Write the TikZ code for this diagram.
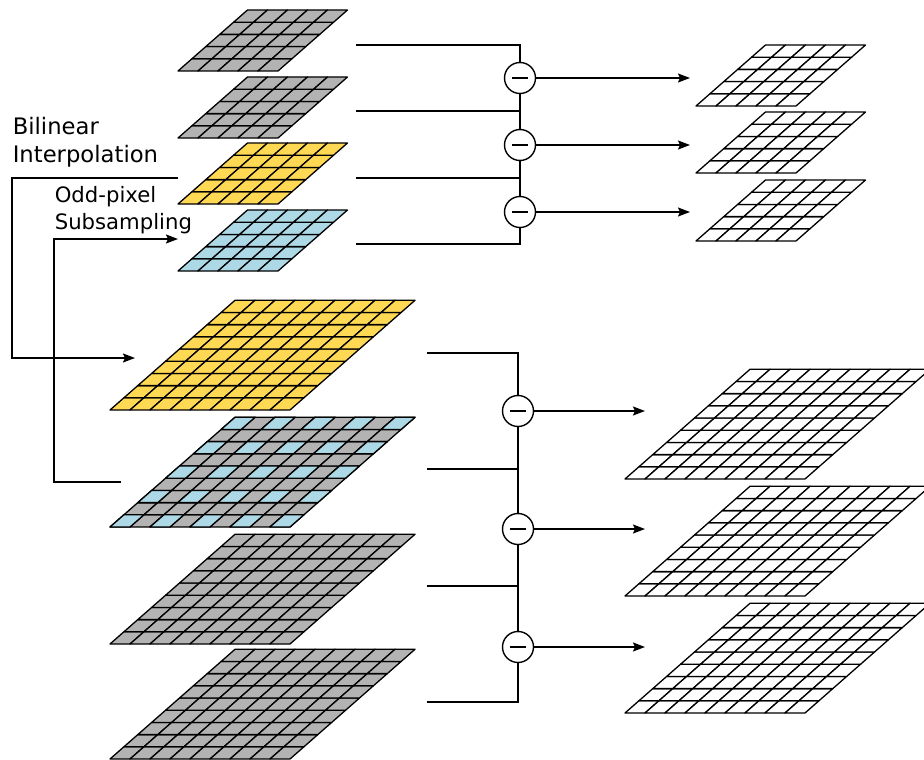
\documentclass[tikz,border=0pt]{standalone}
\usepackage{fontspec}
\setmainfont{DejaVu Sans}
\usepackage{tikz}
\usetikzlibrary{arrows.meta}

\definecolor{LayerGray}{RGB}{179,179,179}
\definecolor{LayerGold}{RGB}{255,217,84}
\definecolor{LayerBlue}{RGB}{173,216,230}

% one cell of a slanted grid: x, y of grid corner, row, column, fill
\newcommand{\gridcell}[5]{%
  \draw[cell, fill=#5] ({#1+#4*20+#3*13.9},{#2-#3*12.2}) -- ++(20,0) -- ++(13.9,-12.2) -- ++(-20,0) -- cycle;}
% full grid: x, y of lower left corner, size, fill
\newcommand{\layer}[4]{%
  \foreach \r in {0,...,\numexpr#3-1\relax} {
    \foreach \c in {0,...,\numexpr#3-1\relax} {\gridcell{#1}{#2}{\r}{\c}{#4}}}}

\begin{document}
\begin{tikzpicture}[x=1pt, y=-1pt, line width=1.6pt,
    cell/.style={draw=black, line width=1.3pt, line join=round},
    diff/.style={draw, circle, fill=white, minimum size=31pt, inner sep=0pt, line width=1.4pt,
      path picture={\draw[line width=1.3pt] ([xshift=-8pt]path picture bounding box.center) -- ([xshift=8pt]path picture bounding box.center);}},
    flow/.style={-{Stealth[length=12pt, width=9pt, inset=2pt]}},
    every node/.append style={font=\fontsize{22.7}{28}\selectfont}]
  \tikzstyle{label} = [anchor=north west, align=left, inner sep=0pt]
  \useasboundingbox (0,0) rectangle (924,760);

  \layer{178}{71}{5}{LayerGray}
  \layer{178}{138}{5}{LayerGray}
  \layer{178}{204}{5}{LayerGold}
  \layer{178}{271}{5}{LayerBlue}

  \layer{696}{106}{5}{white}
  \layer{696}{173}{5}{white}
  \layer{696}{241}{5}{white}

  \layer{110}{410}{9}{LayerGold}
  \layer{110}{527}{9}{LayerGray}
  \foreach \r in {0,2,...,8} {
    \foreach \c in {0,2,...,8} {\gridcell{110}{527}{\r}{\c}{LayerBlue}}}
  \layer{110}{644}{9}{LayerGray}
  \layer{110}{759}{9}{LayerGray}

  \layer{625}{479}{9}{white}
  \layer{625}{596}{9}{white}
  \layer{625}{713}{9}{white}

  \node[label] (bilinear) at (12,116) {Bilinear\\Interpolation};
  \node[label, font=\fontsize{21.2}{27}\selectfont] (oddpixel) at (54,186) {Odd-pixel\\Subsampling};

  \coordinate (bsrc) at (178,178);
  \coordinate (bcorner) at (12,178);
  \coordinate (bdst) at (135,358);
  \draw[flow] (bsrc) -- (bcorner) |- (bdst);
  \coordinate (osrc) at (121,482);
  \coordinate (ocorner) at (54,482);
  \coordinate (odst) at (178,239);
  \draw[flow] (osrc) -- (ocorner) |- (odst);

  \coordinate (s1) at (356,45);
  \coordinate (s2) at (356,111);
  \coordinate (s3) at (356,178);
  \coordinate (s4) at (356,244);
  \coordinate (m1) at (520,78);
  \coordinate (m2) at (520,145);
  \coordinate (m3) at (520,212);
  \draw (s1) -| (m1) -- (m3) |- (s4);
  \draw (s2) -- (s2 -| m1);
  \draw (s3) -- (s3 -| m1);
  \node[diff] (d1) at (m1) {};
  \node[diff] (d2) at (m2) {};
  \node[diff] (d3) at (m3) {};
  \coordinate (t1) at (690,78);
  \coordinate (t2) at (690,145);
  \coordinate (t3) at (690,212);
  \draw[flow] (d1) -- (t1);
  \draw[flow] (d2) -- (t2);
  \draw[flow] (d3) -- (t3);

  \coordinate (S1) at (427,353);
  \coordinate (S2) at (427,469);
  \coordinate (S3) at (427,586);
  \coordinate (S4) at (427,702);
  \coordinate (M1) at (518,411);
  \coordinate (M2) at (518,529);
  \coordinate (M3) at (518,647);
  \draw (S1) -| (M1) -- (M3) |- (S4);
  \draw (S2) -- (S2 -| M1);
  \draw (S3) -- (S3 -| M1);
  \node[diff] (D1) at (M1) {};
  \node[diff] (D2) at (M2) {};
  \node[diff] (D3) at (M3) {};
  \coordinate (T1) at (645,411);
  \coordinate (T2) at (645,529);
  \coordinate (T3) at (645,647);
  \draw[flow] (D1) -- (T1);
  \draw[flow] (D2) -- (T2);
  \draw[flow] (D3) -- (T3);
\end{tikzpicture}
\end{document}
